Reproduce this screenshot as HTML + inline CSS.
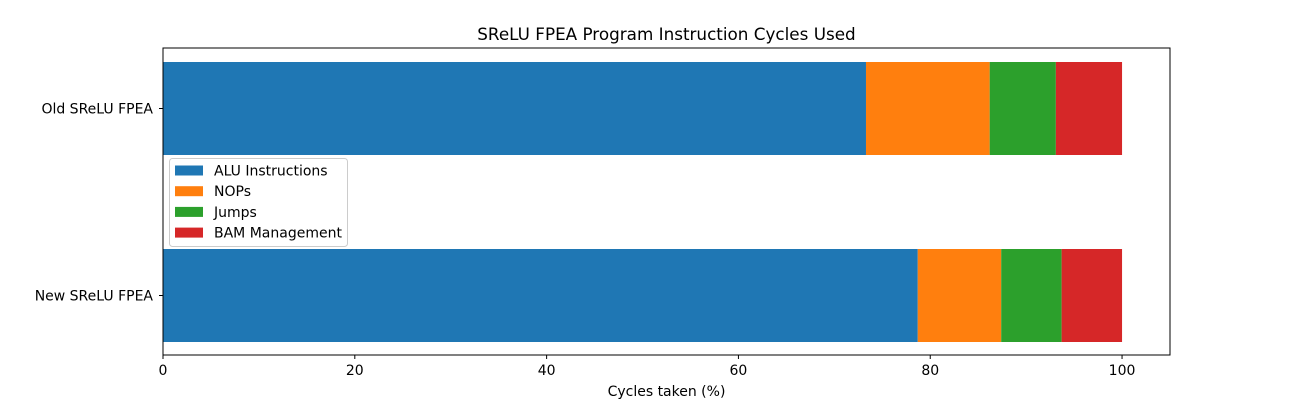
<!DOCTYPE html>
<html><head><meta charset="utf-8"><style>
body{margin:0;background:#fff;}
svg text{font-family:"DejaVu Sans","Liberation Sans",sans-serif;fill:#000;}
</style></head><body>
<svg id="chart" width="1300" height="400"></svg>
<script>
const categories = ["New SReLU FPEA", "Old SReLU FPEA"];
const seriesNames = ["ALU Instructions", "NOPs", "Jumps", "BAM Management"];
const aluValues = [78.7, 73.3];
const nopValues = [8.7, 12.9];
const jumpValues = [6.3, 6.9];
const bamValues = [6.3, 6.9];
const xTicks = [0, 20, 40, 60, 80, 100];
const colors = ["#1f77b4", "#ff7f0e", "#2ca02c", "#d62728"];

const NS = "http://www.w3.org/2000/svg";
const svg = document.getElementById("chart");
const L = 163, R = 1170, T = 48, B = 355;
const xMin = 0, xMax = 105;
const x = v => L + (v - xMin) / (xMax - xMin) * (R - L);
const y = i => 295.5 - i * 187;
const barH = 93;
function el(tag, attrs, text) {
  const e = document.createElementNS(NS, tag);
  for (const k in attrs) e.setAttribute(k, attrs[k]);
  if (text !== undefined) e.textContent = text;
  svg.appendChild(e);
  return e;
}
const series = [aluValues, nopValues, jumpValues, bamValues];
categories.forEach((c, i) => {
  let acc = 0;
  series.forEach((s, j) => {
    const r = el("rect", {x: x(acc), y: y(i) - barH / 2, width: x(acc + s[i]) - x(acc), height: barH, fill: colors[j]});
    
    
    acc += s[i];
  });
  const lbl = el("text", {x: L - 10, y: y(i) + 5, "font-size": 14, "text-anchor": "end"}, c);
  
  
  el("line", {x1: L - 4, x2: L, y1: y(i), y2: y(i), stroke: "#000"});
});
const frame = el("rect", {x: L, y: T, width: R - L, height: B - T, fill: "none", stroke: "#000", "stroke-width": 1});


xTicks.forEach(t => {
  el("line", {x1: x(t), x2: x(t), y1: B, y2: B + 4, stroke: "#000"});
  const tl = el("text", {x: x(t), y: B + 20, "font-size": 14, "text-anchor": "middle"}, t);
  
  
});
const xt = el("text", {x: (L + R) / 2, y: 396, "font-size": 14, "text-anchor": "middle"}, "Cycles taken (%)");


const title = el("text", {x: (L + R) / 2, y: 40, "font-size": 16.8, "text-anchor": "middle"}, "SReLU FPEA Program Instruction Cycles Used");


const lg = el("rect", {x: 169.5, y: 158.5, width: 178, height: 88, rx: 3, fill: "#fff", "fill-opacity": 0.8, stroke: "#ccc"});


seriesNames.forEach((n, j) => {
  const cy = 170.5 + j * 20.7;
  el("rect", {x: 175, y: cy - 5, width: 28, height: 10, fill: colors[j]});
  const t = el("text", {x: 214, y: cy + 5, "font-size": 14}, n);
  
  
});
</script>
</body></html>
